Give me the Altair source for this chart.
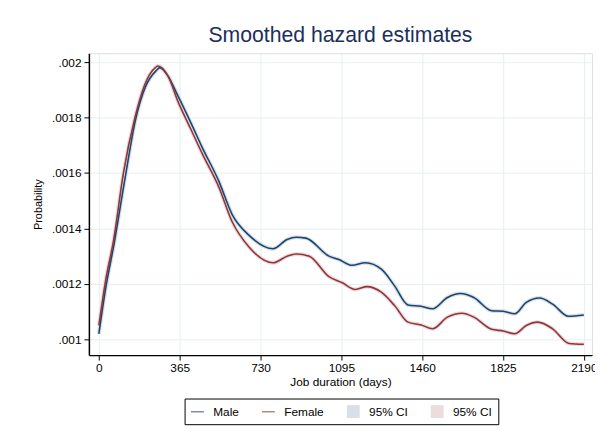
import altair as alt
import pandas as pd

# ---- data ----
male_days = [0, 30, 70, 120, 165, 210, 260, 275, 312, 356, 416, 468, 542, 602, 676,
             787, 850, 891, 935, 1039, 1084, 1143, 1203, 1277, 1336, 1396, 1455, 1507,
             1574, 1633, 1693, 1774, 1826, 1878, 1930, 1990, 2049, 2120, 2190]
male_hazard = [0.00102, 0.00118, 0.00135, 0.00159, 0.00179, 0.00191, 0.00197, 0.00198,
               0.00195, 0.00188, 0.00178, 0.00169, 0.00157, 0.00145, 0.001377,
               0.001327, 0.00136, 0.001368, 0.001365, 0.0013, 0.001288, 0.001267,
               0.001276, 0.001252, 0.001192, 0.001124, 0.001119, 0.00111,
               0.001151, 0.001165, 0.001151, 0.001103, 0.001101, 0.001092,
               0.001133, 0.001149, 0.001127, 0.001083, 0.001088]

female_days = [0, 30, 67, 111, 163, 208, 255, 267, 312, 356, 416, 468, 542, 602, 676,
               787, 850, 891, 950, 1039, 1099, 1158, 1210, 1277, 1336, 1396, 1455, 1507,
               1574, 1640, 1693, 1774, 1826, 1878, 1930, 1982, 2049, 2123, 2190]
female_hazard = [0.00105, 0.00121, 0.00136, 0.0016, 0.0018, 0.00192, 0.00198, 0.001986,
                 0.00195, 0.00186, 0.001757, 0.001668, 0.001549, 0.001424, 0.001335,
                 0.001276, 0.0013, 0.001308, 0.0013, 0.001226, 0.001204, 0.00118,
                 0.00119, 0.001169, 0.001121, 0.001062, 0.001052, 0.001038,
                 0.00108, 0.001094, 0.00108, 0.001036, 0.00103, 0.00102,
                 0.00105, 0.001062, 0.001038, 0.000985, 0.000982]

series_names = ["Male", "Female", "CI Male", "CI Female"]
series_colors = ["#1a476f", "#90353b", "#d9dfe8", "#ebdcdd"]
legend_shapes = ["M-1,-0.07H1V0.07H-1Z", "M-1,-0.07H1V0.07H-1Z", "square", "square"]
x_ticks = [0, 365, 730, 1095, 1460, 1825, 2190]
y_ticks = [0.001, 0.0012, 0.0014, 0.0016, 0.0018, 0.002]

df = pd.concat([
    pd.DataFrame({"day": male_days, "hazard": male_hazard, "series": "Male"}),
    pd.DataFrame({"day": female_days, "hazard": female_hazard, "series": "Female"}),
], ignore_index=True)

FONT = "Liberation Sans"
GRID = "#e6eff1"

x_enc = alt.X(
    "day:Q",
    scale=alt.Scale(domain=[-45, 2227], nice=False, zero=False),
    axis=alt.Axis(values=x_ticks, format="d", title="Job duration (days)", grid=True,
                  gridColor=GRID, tickSize=5, tickColor="black", domainColor="black",
                  domainWidth=1.5, labelFont=FONT, labelFontSize=12, labelColor="black",
                  labelPadding=3, labelFlush=False, labelOverlap=False,
                  titleFont=FONT, titleFontSize=12, titleFontWeight="normal",
                  titleColor="black", titlePadding=3),
)
y_enc = alt.Y(
    "hazard:Q",
    scale=alt.Scale(domain=[0.000943, 0.002032], nice=False, zero=False),
    axis=alt.Axis(values=y_ticks, title="Probability", grid=True, gridColor=GRID,
                  tickSize=5, tickColor="black", domainColor="black", domainWidth=1.5,
                  labelExpr="replace(format(datum.value, '.4~f'), '0.', '.')",
                  labelFont=FONT, labelFontSize=12, labelColor="black", labelPadding=3,
                  labelFlush=False, labelOverlap=False,
                  titleFont=FONT, titleFontSize=11, titleFontWeight="normal",
                  titleColor="black", titlePadding=8),
)

base = alt.Chart(df).encode(x=x_enc, y=y_enc)

color_scale = alt.Scale(domain=series_names, range=series_colors)

def make_legend():
    return alt.Legend(
        orient="none", legendX=97, legendY=350, direction="horizontal", columns=4,
        title=None, strokeColor="black", padding=6, columnPadding=22,
        labelFont=FONT, labelFontSize=12, labelColor="black", labelOffset=9,
        symbolSize=170, symbolOpacity=1, symbolStrokeWidth=0,
        labelExpr="indexof(datum.value, 'CI') >= 0 ? '95% CI' : datum.value",
    )

# invisible points that only carry the legend (first layer so its legend wins)
legend_layer = base.mark_point(filled=True, opacity=0).encode(
    color=alt.Color("series:N", scale=color_scale, legend=make_legend()),
    shape=alt.Shape("series:N", scale=alt.Scale(domain=series_names, range=legend_shapes),
                    legend=make_legend()),
)

halo_m = base.transform_filter(alt.datum.series == "Male").mark_line(
    strokeWidth=4, color=series_colors[2], interpolate="monotone")
halo_f = base.transform_filter(alt.datum.series == "Female").mark_line(
    strokeWidth=4, color=series_colors[3], interpolate="monotone")

lines = base.mark_line(strokeWidth=1.6, interpolate="monotone").encode(
    color=alt.Color("series:N", scale=color_scale, legend=None)
)

chart = alt.layer(legend_layer, halo_m, halo_f, lines).properties(
    width=510, height=306,
    title=alt.TitleParams("Smoothed hazard estimates", font=FONT, fontSize=21.5,
                          fontWeight="normal", color="#1c2f5e", offset=7, anchor="middle"),
    autosize=alt.AutoSizeParams(type="none"),
    padding={"left": 82, "top": 43, "right": 3, "bottom": 70},
).configure_view(stroke="#555", strokeWidth=1.2).configure(background="white")

chart.save("out.html", embed_options={"renderer": "svg", "actions": False})
